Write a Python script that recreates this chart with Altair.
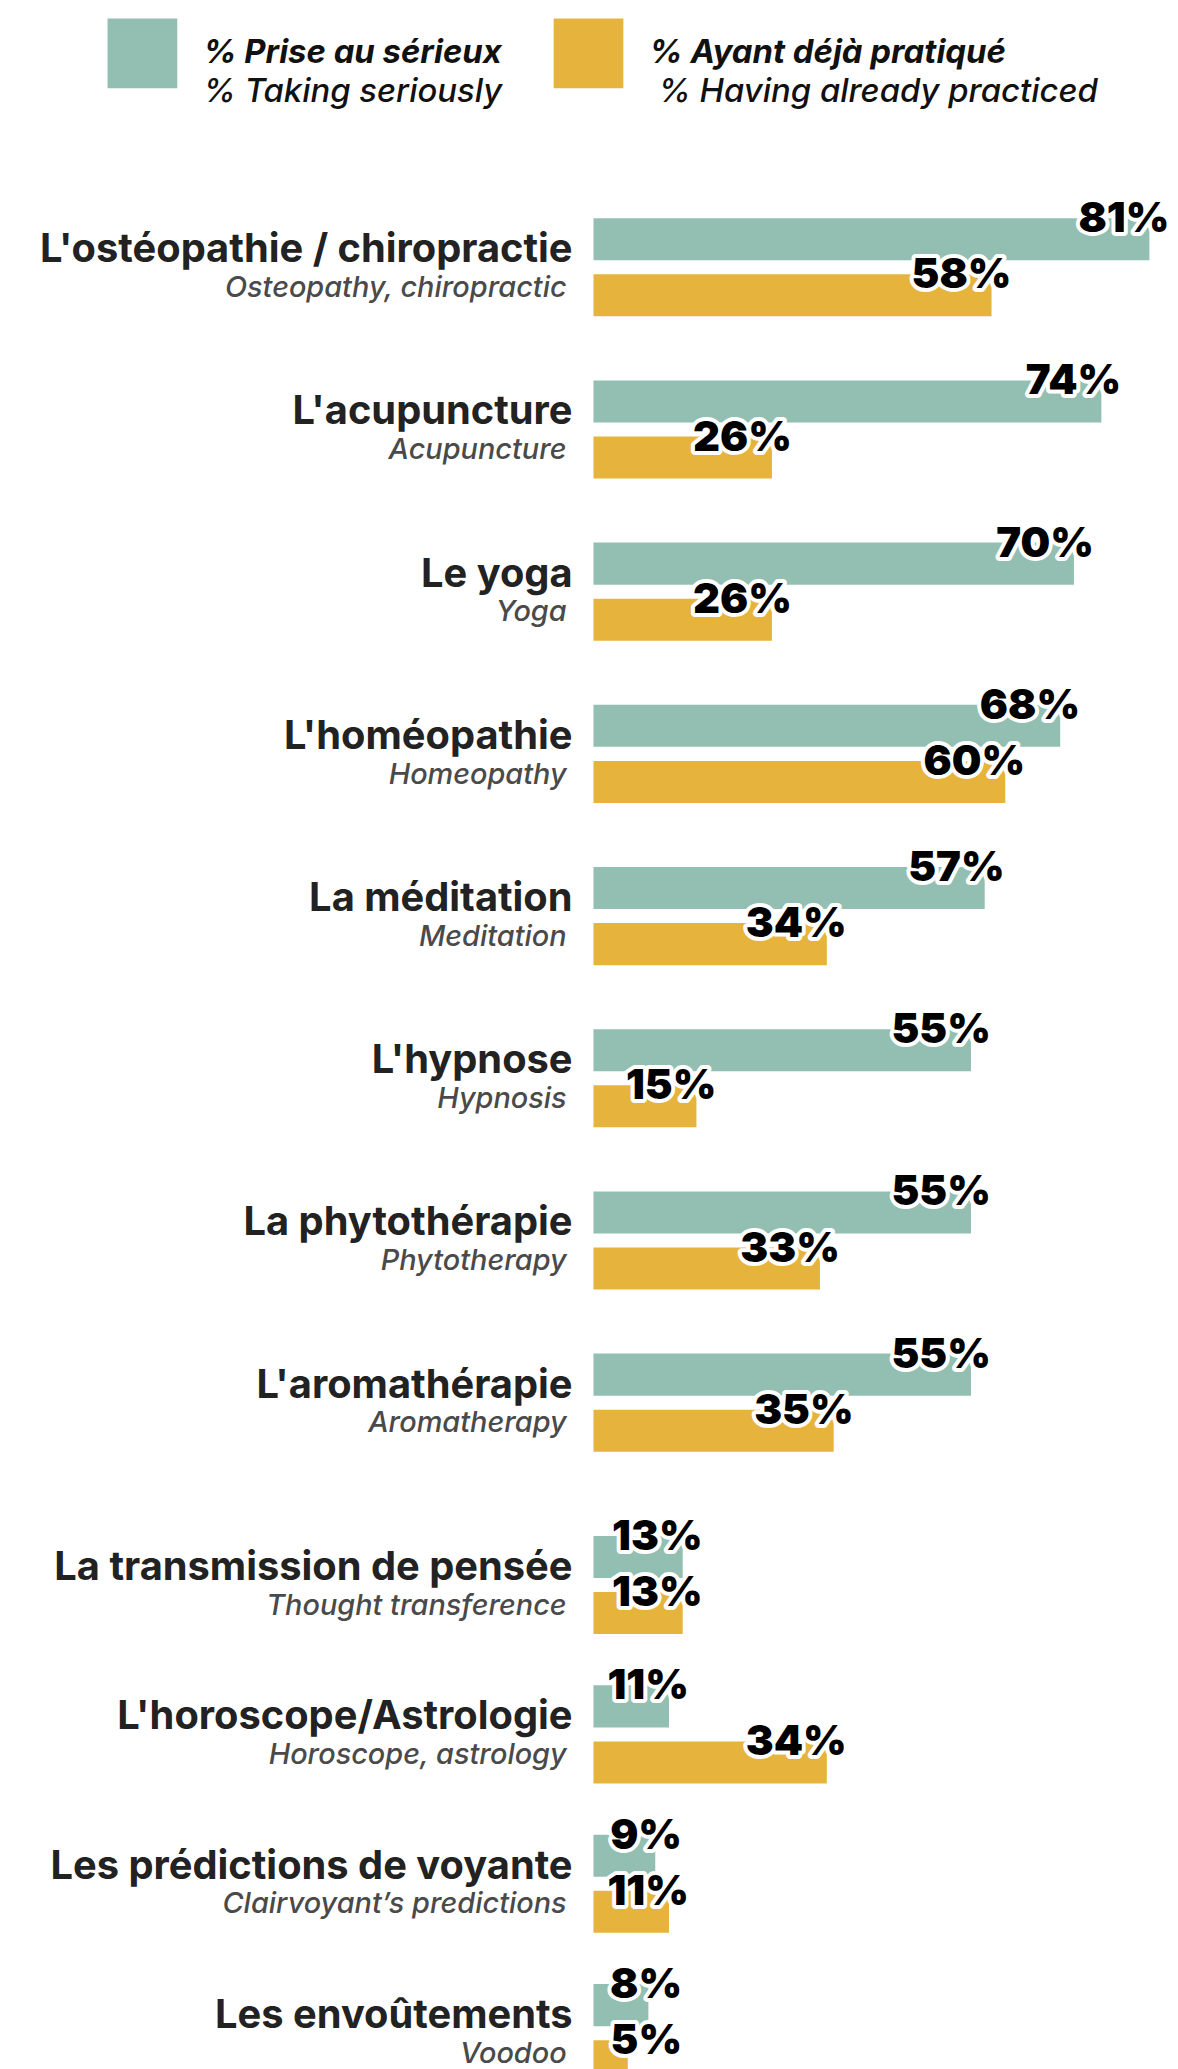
import altair as alt
import pandas as pd

categories_fr = [
    "L'ostéopathie / chiropractie", "L'acupuncture", "Le yoga", "L'homéopathie",
    "La méditation", "L'hypnose", "La phytothérapie", "L'aromathérapie",
    "La transmission de pensée", "L'horoscope/Astrologie",
    "Les prédictions de voyante", "Les envoûtements",
]
categories_en = [
    "Osteopathy, chiropractic", "Acupuncture", "Yoga", "Homeopathy",
    "Meditation", "Hypnosis", "Phytotherapy", "Aromatherapy",
    "Thought transference", "Horoscope, astrology",
    "Clairvoyant’s predictions", "Voodoo",
]
serious = [81, 74, 70, 68, 57, 55, 55, 55, 13, 11, 9, 8]
practiced = [58, 26, 26, 60, 34, 15, 33, 35, 13, 34, 11, 5]

series_fr = ["% Prise au sérieux", "% Ayant déjà pratiqué"]
series_en = ["% Taking seriously", "% Having already practiced"]
series_colors = ["#92BFB1", "#E6B43C"]

# the first 8 items (soft medicines) and the last 4 (esoteric) form two blocks
split_at = 8

FONT = "Inter"
x_scale = alt.Scale(domain=[0, 84], nice=False, zero=True)
yoff = alt.YOffset("series:N", sort=series_fr,
                   scale=alt.Scale(domain=series_fr, paddingInner=0.25, paddingOuter=0))

color_enc = alt.Color(
    "series:N", title=None,
    scale=alt.Scale(domain=series_fr, range=series_colors),
    legend=alt.Legend(
        orient="none", legendX=-488, legendY=-168,
        direction="horizontal",
        symbolType="square", symbolSize=4900, symbolStrokeWidth=0,
        symbolOpacity=1,
        labelFont=FONT, labelFontSize=33, labelFontStyle="italic",
        labelFontWeight=700, labelColor="#111",
        labelOffset=26, labelLimit=1000, columnPadding=51,
    ),
)
opacity_enc = alt.Opacity(
    "series_en:N", title=None,
    scale=alt.Scale(domain=series_en, range=[1, 1]),
    legend=alt.Legend(
        orient="none", legendX=-488, legendY=-111,
        direction="horizontal",
        symbolSize=0, symbolStrokeWidth=0,
        labelFont=FONT, labelFontSize=33, labelFontStyle="italic",
        labelFontWeight=500, labelColor="#111",
        labelOffset=63, labelLimit=1000, columnPadding=60,
    ),
)


def make_panel(cats, cats_en, ser, pra, pad_inner, height):
    rows = []
    for fr, s, p in zip(cats, ser, pra):
        rows.append({"cat": fr, "series": series_fr[0], "series_en": series_en[0], "value": s})
        rows.append({"cat": fr, "series": series_fr[1], "series_en": series_en[1], "value": p})
    bars_df = pd.DataFrame(rows)
    labels_df = pd.DataFrame({
        "cat": cats, "en": cats_en,
        "series": [series_fr[0]] * len(cats),
        "zero": [0] * len(cats),
    })
    y_enc = alt.Y("cat:N", sort=cats, axis=None,
                  scale=alt.Scale(paddingInner=pad_inner, paddingOuter=0.2))

    bars = alt.Chart(bars_df).mark_bar().encode(
        x=alt.X("value:Q", scale=x_scale, axis=None),
        y=y_enc, yOffset=yoff, color=color_enc, opacity=opacity_enc,
    )
    txt_base = alt.Chart(bars_df).transform_calculate(
        pos="max(datum.value, 10)", lab="datum.value + '%'"
    ).encode(
        x=alt.X("pos:Q", scale=x_scale, axis=None),
        y=y_enc, yOffset=yoff, text="lab:N",
    )
    halo = txt_base.mark_text(
        align="right", baseline="alphabetic", dx=20, dy=-7,
        font=FONT, fontSize=42, fontWeight=900,
        color="white", stroke="white", strokeWidth=8, strokeJoin="round",
    )
    fg = txt_base.mark_text(
        align="right", baseline="alphabetic", dx=20, dy=-7,
        font=FONT, fontSize=42, fontWeight=900, color="#000",
    )
    cat_lab = alt.Chart(labels_df).mark_text(
        align="right", baseline="alphabetic", dx=-21, dy=23,
        font=FONT, fontSize=40, fontWeight=700, color="#222",
    ).encode(x=alt.X("zero:Q", scale=x_scale, axis=None), y=y_enc, yOffset=yoff, text="cat:N")
    en_lab = alt.Chart(labels_df).mark_text(
        align="right", baseline="alphabetic", dx=-27, dy=58,
        font=FONT, fontSize=29, fontWeight=500, fontStyle="italic", color="#4a4a4a",
    ).encode(x=alt.X("zero:Q", scale=x_scale, axis=None), y=y_enc, yOffset=yoff, text="en:N")
    return alt.layer(bars, cat_lab, en_lab, halo, fg).properties(width=579, height=height)


top = make_panel(categories_fr[:split_at], categories_en[:split_at],
                 serious[:split_at], practiced[:split_at], 0.395, 1304)
bottom = make_panel(categories_fr[split_at:], categories_en[split_at:],
                    serious[split_at:], practiced[split_at:], 0.347, 608)

chart = alt.vconcat(top, bottom, spacing=22, bounds="flush").properties(
    padding={"left": 31, "top": 6, "right": 0, "bottom": 0},
    autosize=alt.AutoSizeParams(type="pad"),
).configure_view(strokeWidth=0)

chart.save("out.html", embed_options={"renderer": "svg", "actions": False})
